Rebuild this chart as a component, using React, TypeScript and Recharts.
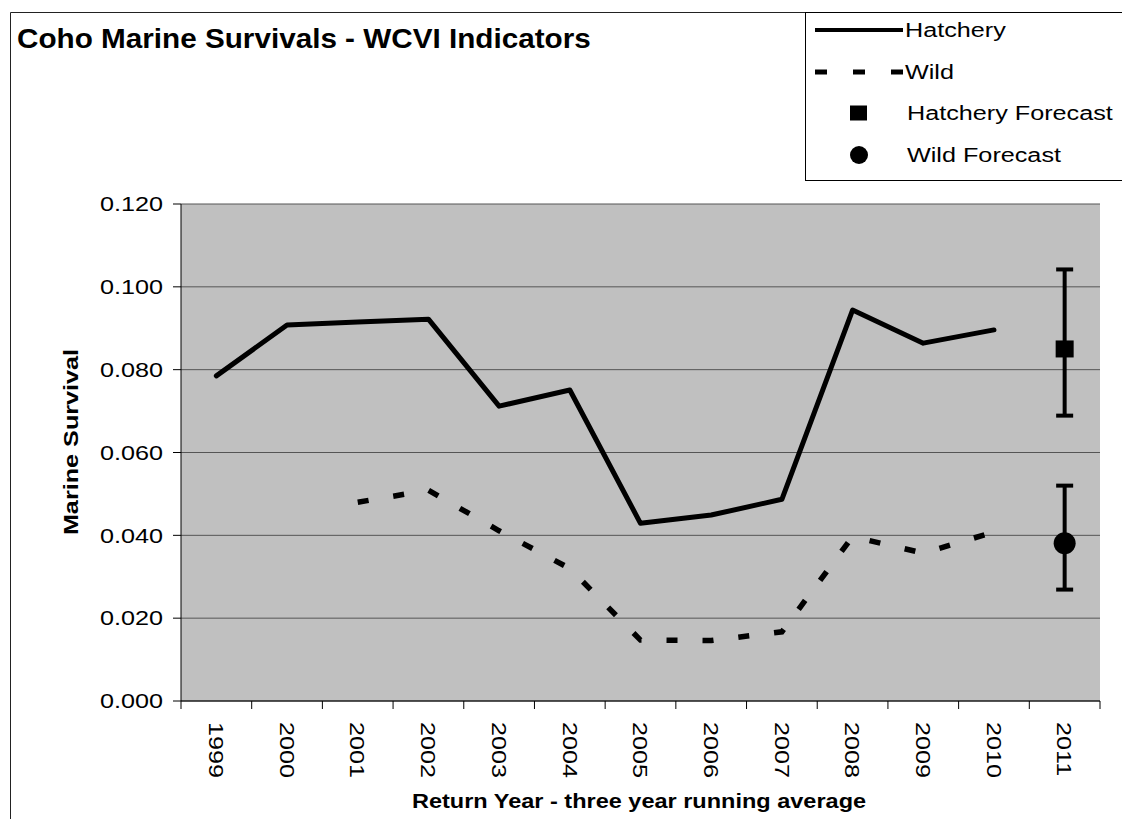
import React from 'react';
import {
  ComposedChart,
  Line,
  XAxis,
  YAxis,
  CartesianGrid,
  ErrorBar,
  Legend,
  Customized,
} from 'recharts';

const FONT = '"Liberation Sans", Arial, Helvetica, sans-serif';

const years = ['1999', '2000', '2001', '2002', '2003', '2004', '2005', '2006', '2007', '2008', '2009', '2010', '2011'];
const hatchery = [0.0785, 0.0908, 0.0915, 0.0922, 0.0712, 0.0751, 0.0429, 0.0449, 0.0487, 0.0944, 0.0864, 0.0896, null];
const wild = [null, null, 0.048, 0.0509, 0.0411, 0.032, 0.0147, 0.0146, 0.0167, 0.0397, 0.0357, 0.0408, null];
const hatcheryForecast = [null, null, null, null, null, null, null, null, null, null, null, null, 0.085];
const hatcheryForecastLow = [null, null, null, null, null, null, null, null, null, null, null, null, 0.0689];
const hatcheryForecastHigh = [null, null, null, null, null, null, null, null, null, null, null, null, 0.1042];
const wildForecast = [null, null, null, null, null, null, null, null, null, null, null, null, 0.0381];
const wildForecastLow = [null, null, null, null, null, null, null, null, null, null, null, null, 0.0269];
const wildForecastHigh = [null, null, null, null, null, null, null, null, null, null, null, null, 0.052];
const yTicks = [0, 0.02, 0.04, 0.06, 0.08, 0.1, 0.12];
const legendLabels = ['Hatchery', 'Wild', 'Hatchery Forecast', 'Wild Forecast'];

const data = years.map((year, i) => {
  const hf = hatcheryForecast[i];
  const wf = wildForecast[i];
  return {
    year,
    hatchery: hatchery[i],
    wild: wild[i],
    hatcheryForecast: hf,
    hatcheryForecastErr:
      hf != null ? [hf - (hatcheryForecastLow[i] as number), (hatcheryForecastHigh[i] as number) - hf] : null,
    wildForecast: wf,
    wildForecastErr:
      wf != null ? [wf - (wildForecastLow[i] as number), (wildForecastHigh[i] as number) - wf] : null,
  };
});

const PLOT_W = 919;
const HALF_BAND = PLOT_W / years.length / 2;
const SX = 1.2;

function SText(props: any) {
  const { x, y, angle = 0, sx = SX, children, ...rest } = props;
  return (
    <text
      transform={`translate(${x},${y}) rotate(${angle}) scale(${sx},1)`}
      x={0}
      y={0}
      fontFamily={FONT}
      fill="#000"
      {...rest}
    >
      {children}
    </text>
  );
}

const YTick = (props: any) => {
  const { x, y, payload } = props;
  return (
    <SText x={x} y={y} textAnchor="end" dominantBaseline="central" fontSize={21}>
      {Number(payload.value).toFixed(3)}
    </SText>
  );
};

const XTick = (props: any) => {
  const { x, y, payload, index } = props;
  const axisY = y - 21;
  return (
    <g>
      <line x1={x - HALF_BAND} x2={x - HALF_BAND} y1={axisY} y2={axisY + 8} stroke="#000" strokeWidth={1} />
      {index === years.length - 1 ? (
        <line x1={x + HALF_BAND} x2={x + HALF_BAND} y1={axisY} y2={axisY + 8} stroke="#000" strokeWidth={1} />
      ) : null}
      <SText x={x} y={y} angle={90} textAnchor="start" dominantBaseline="central" fontSize={21}>
        {payload.value}
      </SText>
    </g>
  );
};

const squareDot = (p: any) => {
  const { cx, cy, key } = p;
  if (cx == null || cy == null || p.value == null) return <g key={key} />;
  return <rect key={key} x={cx - 9} y={cy - 8.5} width={18} height={17} fill="#000" />;
};

const circleDot = (p: any) => {
  const { cx, cy, key } = p;
  if (cx == null || cy == null || p.value == null) return <g key={key} />;
  return <circle key={key} cx={cx} cy={cy} r={11} fill="#000" />;
};

const LegendBox = () => {
  const rows = [18, 60, 101, 143];
  return (
    <svg width={317} height={170} style={{ display: 'block', overflow: 'hidden' }}>
      <rect x={0.5} y={0.5} width={340} height={168} fill="#fff" stroke="#000" strokeWidth={1} />
      <line x1={10} x2={98} y1={rows[0]} y2={rows[0]} stroke="#000" strokeWidth={4} />
      <line x1={10} x2={98} y1={rows[1]} y2={rows[1]} stroke="#000" strokeWidth={5} strokeDasharray="12 26" />
      <rect x={45} y={rows[2] - 7.5} width={17} height={15} fill="#000" />
      <circle cx={54} cy={rows[3]} r={9} fill="#000" />
      {legendLabels.map((t, i) => (
        <SText key={t} x={i < 2 ? 100 : 102} y={rows[i]} dominantBaseline="central" fontSize={21}>
          {t}
        </SText>
      ))}
    </svg>
  );
};

const Decorations = () => (
  <g>
    <path d="M10.5,819 V12.5 H1122" fill="none" stroke="#222" strokeWidth={1} />
    <SText x={17} y={48} fontSize={28} fontWeight="bold" sx={1.06}>
      Coho Marine Survivals - WCVI Indicators
    </SText>
    <SText x={71} y={442} angle={-90} textAnchor="middle" dominantBaseline="central" fontSize={21} fontWeight="bold">
      Marine Survival
    </SText>
    <SText x={639} y={808} textAnchor="middle" fontSize={21} fontWeight="bold" sx={1.12}>
      Return Year - three year running average
    </SText>
  </g>
);

export default function App() {
  return (
    <div style={{ position: 'absolute', left: 0, top: 0, width: 1122, height: 819, overflow: 'hidden', background: '#fff' }}>
      <ComposedChart
        width={1122}
        height={819}
        data={data}
        margin={{ top: 204, right: 22, bottom: 0, left: 0 }}
      >
        <CartesianGrid horizontal vertical={false} fill="#C0C0C0" fillOpacity={1} stroke="#555" strokeWidth={1} />
        <XAxis
          dataKey="year"
          type="category"
          interval={0}
          height={118}
          padding={{ left: HALF_BAND, right: HALF_BAND }}
          tickLine={false}
          tickSize={8}
          tickMargin={13}
          axisLine={{ stroke: '#000', strokeWidth: 1 }}
          tick={<XTick />}
        />
        <YAxis
          width={181}
          domain={[0, 0.12]}
          ticks={yTicks}
          interval={0}
          tickSize={8}
          tickMargin={10}
          axisLine={{ stroke: '#000', strokeWidth: 1 }}
          tickLine={{ stroke: '#000', strokeWidth: 1 }}
          tick={<YTick />}
        />
        <YAxis
          yAxisId="r"
          orientation="right"
          width={0}
          domain={[0, 0.12]}
          tick={false}
          tickLine={false}
          axisLine={{ stroke: '#808080', strokeWidth: 1 }}
        />
        <Line
          dataKey="hatchery"
          name="Hatchery"
          stroke="#000"
          strokeWidth={5}
          strokeLinejoin="round"
          strokeLinecap="round"
          dot={false}
          activeDot={false}
          isAnimationActive={false}
        />
        <Line
          dataKey="wild"
          name="Wild"
          stroke="#000"
          strokeWidth={5.5}
          strokeDasharray="11 25"
          dot={false}
          activeDot={false}
          isAnimationActive={false}
        />
        <Line
          dataKey="hatcheryForecast"
          name="Hatchery Forecast"
          stroke="none"
          dot={squareDot}
          activeDot={false}
          isAnimationActive={false}
        >
          <ErrorBar dataKey="hatcheryForecastErr" width={8.5} strokeWidth={4} stroke="#000" direction="y" isAnimationActive={false} />
        </Line>
        <Line
          dataKey="wildForecast"
          name="Wild Forecast"
          stroke="none"
          dot={circleDot}
          activeDot={false}
          isAnimationActive={false}
        >
          <ErrorBar dataKey="wildForecastErr" width={8.5} strokeWidth={4} stroke="#000" direction="y" isAnimationActive={false} />
        </Line>
        <Legend
          layout="vertical"
          align="center"
          verticalAlign="middle"
          wrapperStyle={{ position: 'absolute', left: 805, top: 12, width: 317, height: 170 }}
          content={() => <LegendBox />}
        />
        <Customized component={<Decorations />} />
      </ComposedChart>
    </div>
  );
}
